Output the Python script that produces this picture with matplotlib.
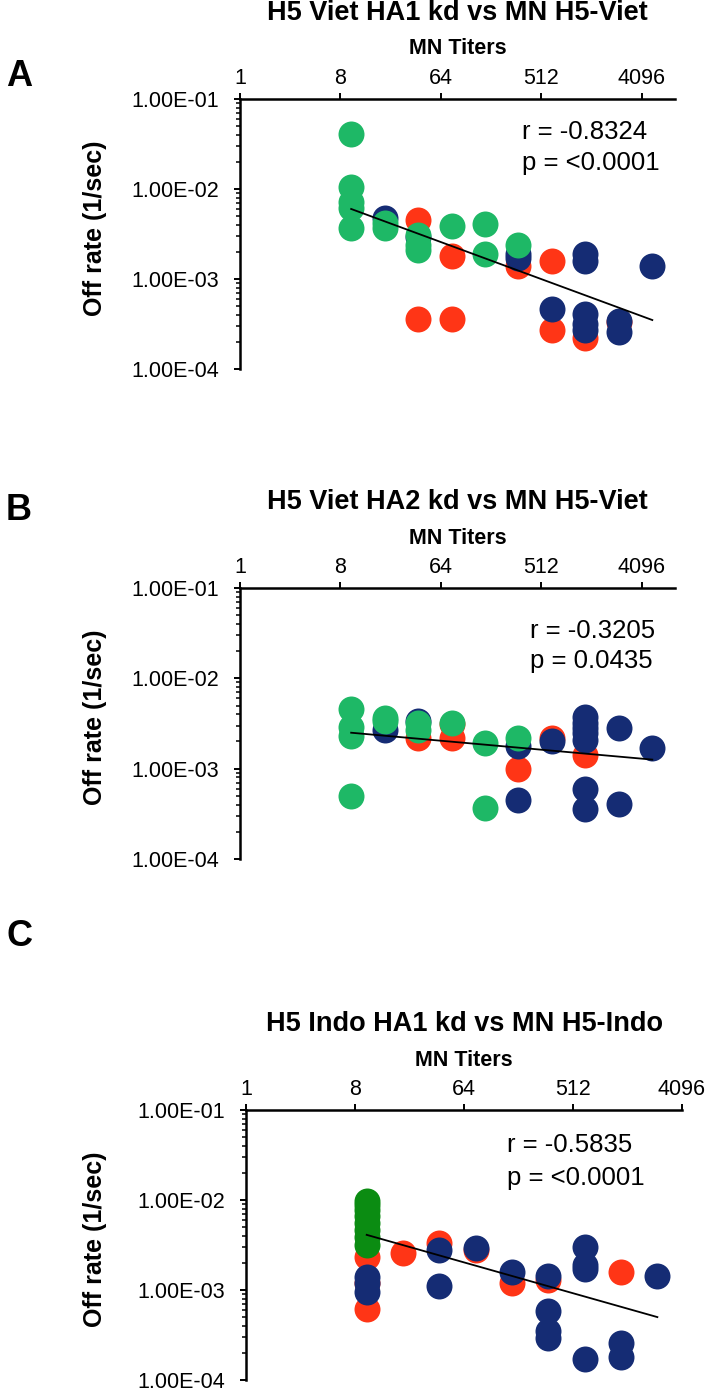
import numpy as np
import matplotlib
matplotlib.use("Agg")
import matplotlib.pyplot as plt
from matplotlib.ticker import FixedLocator, FuncFormatter, LogLocator, NullLocator

plt.rcParams['font.family'] = ['Liberation Sans', 'DejaVu Sans']

RED = "#ff3516"
NAVY = "#152c74"
GREEN = "#1eb866"
DKGREEN = "#0b8c12"

# panel A: H5 Viet HA1
a_red_x = [40, 40, 80, 80, 320, 640, 640, 1280, 2560]
a_red_y = [0.0045, 0.00036, 0.0018, 0.00036, 0.0014, 0.0016, 0.00027, 0.00022, 0.00033]
a_navy_x = [20, 40, 320, 320, 640, 1280, 1280, 1280, 1280, 1280, 2560, 2560, 5120]
a_navy_y = [0.0048, 0.0029, 0.0019, 0.0017, 0.00046, 0.0019, 0.0016, 0.00041, 0.00032,
            0.00027, 0.00034, 0.00026, 0.0014]
a_green_x = [10, 10, 10, 10, 10, 20, 20, 40, 40, 40, 80, 160, 160, 320]
a_green_y = [0.041, 0.0105, 0.0072, 0.0062, 0.0037, 0.0042, 0.0037, 0.0031, 0.0024,
             0.0021, 0.0039, 0.0041, 0.0019, 0.0024]
a_fit_x = [10, 5120]
a_fit_y = [0.006, 0.00035]

# panel B: H5 Viet HA2
b_red_x = [40, 80, 80, 320, 640, 1280]
b_red_y = [0.0022, 0.0022, 0.0031, 0.0010, 0.0022, 0.0014]
b_navy_x = [20, 40, 320, 320, 640, 1280, 1280, 1280, 1280, 1280, 1280, 1280, 2560, 2560, 5120]
b_navy_y = [0.0027, 0.0034, 0.0018, 0.00045, 0.0020, 0.0037, 0.0032, 0.0028, 0.0025,
            0.0021, 0.00059, 0.00036, 0.0028, 0.00041, 0.0017]
b_green_x = [10, 10, 10, 10, 20, 20, 40, 40, 80, 160, 160, 320]
b_green_y = [0.0046, 0.0029, 0.0023, 0.00050, 0.0036, 0.0034, 0.0032, 0.0027, 0.0032,
             0.0019, 0.00037, 0.0022]
b_fit_x = [10, 5120]
b_fit_y = [0.0025, 0.00126]

# panel C: H5 Indo HA1
c_red_x = [10, 10, 10, 20, 40, 80, 160, 320, 1280]
c_red_y = [0.0023, 0.0012, 0.00062, 0.0026, 0.0033, 0.0028, 0.0012, 0.0013, 0.0016]
c_navy_x = [10, 10, 10, 40, 40, 80, 160, 320, 320, 320, 320, 640, 640, 640, 640,
            1280, 1280, 2560]
c_navy_y = [0.0014, 0.0012, 0.00096, 0.0028, 0.0011, 0.0029, 0.0016, 0.00144, 0.00058,
            0.00035, 0.00029, 0.0030, 0.0019, 0.0017, 0.00017, 0.00026, 0.00018, 0.00144]
c_green_x = [10, 10, 10, 10, 10, 10, 10, 10]
c_green_y = [0.0098, 0.0088, 0.0077, 0.0066, 0.0056, 0.0047, 0.0039, 0.0032]
c_fit_x = [10, 2560]
c_fit_y = [0.0041, 0.0005]

titles = ["H5 Viet HA1 kd vs MN H5-Viet", "H5 Viet HA2 kd vs MN H5-Viet",
          "H5 Indo HA1 kd vs MN H5-Indo"]
stats = [("r = -0.8324", "p = <0.0001"), ("r = -0.3205", "p = 0.0435"),
         ("r = -0.5835", "p = <0.0001")]
letters = ["A", "B", "C"]
x_ticks = [1, 8, 64, 512, 4096]
y_ticks = [1e-4, 1e-3, 1e-2, 1e-1]

W, H = 707, 1391
fig = plt.figure(figsize=(W / 100, H / 100), dpi=100)


def px_axes(left, top, right, bottom):
    return fig.add_axes([left / W, 1 - bottom / H, (right - left) / W, (bottom - top) / H])


def panel(ax, red, navy, green, fit, xmax, title, stat, stat_pos, green_col):
    ms = 350
    ax.scatter(*red, s=ms, color=RED, linewidths=0, zorder=2)
    ax.scatter(*navy, s=ms, color=NAVY, linewidths=0, zorder=3)
    ax.scatter(*green, s=ms, color=green_col, linewidths=0, zorder=4)
    ax.plot(*fit, color="black", lw=1.3, zorder=5)

    ax.set_xscale("log", base=2)
    ax.set_yscale("log")
    ax.set_xlim(1, xmax)
    ax.set_ylim(1e-4, 1e-1)
    ax.xaxis.tick_top()
    ax.xaxis.set_major_locator(FixedLocator(x_ticks))
    ax.xaxis.set_minor_locator(NullLocator())
    ax.xaxis.set_major_formatter(FuncFormatter(lambda v, p: str(int(round(v)))))
    ax.yaxis.set_major_locator(FixedLocator(y_ticks))
    ax.yaxis.set_minor_locator(LogLocator(base=10, subs=np.arange(2, 10)))
    ax.yaxis.set_major_formatter(FuncFormatter(lambda v, p: f"{v:.2E}"))
    ax.tick_params(axis="x", which="major", direction="out", length=4, width=1.4,
                   labelsize=15.5, pad=3)
    ax.tick_params(axis="y", which="major", direction="out", length=4, width=1.4,
                   labelsize=15.5, pad=11)
    ax.tick_params(axis="y", which="minor", direction="out", length=3, width=1.1)
    for s in ["bottom", "right"]:
        ax.spines[s].set_visible(False)
    for s in ["top", "left"]:
        ax.spines[s].set_linewidth(1.8)

    ax.annotate(title, xy=(0.5, 1), xycoords="axes fraction", xytext=(0, 86),
                textcoords="offset pixels", ha="center", va="center",
                fontsize=19.5, fontweight="bold")
    ax.annotate("MN Titers", xy=(0.5, 1), xycoords="axes fraction", xytext=(0, 50),
                textcoords="offset pixels", ha="center", va="center",
                fontsize=15.5, fontweight="bold")
    ax.annotate("Off rate (1/sec)", xy=(0, 0.5), xycoords="axes fraction",
                xytext=(-145 + (240 - ax.get_position().x0 * W), 6),
                textcoords="offset pixels", ha="center", va="center",
                rotation=90, fontsize=18, fontweight="bold")
    ax.text(stat_pos[0], stat_pos[1], stat[0], transform=ax.transAxes, fontsize=18.5,
            va="center", ha="left")
    ax.text(stat_pos[0], stat_pos[2], stat[1], transform=ax.transAxes, fontsize=18.5,
            va="center", ha="left")


ax_a = px_axes(240, 99, 675, 369)
panel(ax_a, (a_red_x, a_red_y), (a_navy_x, a_navy_y), (a_green_x, a_green_y),
      (a_fit_x, a_fit_y), 8192, titles[0], stats[0], (0.648, 0.877, 0.762), GREEN)

ax_b = px_axes(240, 588, 675, 859)
panel(ax_b, (b_red_x, b_red_y), (b_navy_x, b_navy_y), (b_green_x, b_green_y),
      (b_fit_x, b_fit_y), 8192, titles[1], stats[1], (0.667, 0.84, 0.73), GREEN)

ax_c = px_axes(246, 1110, 682, 1380)
panel(ax_c, (c_red_x, c_red_y), (c_navy_x, c_navy_y), (c_green_x, c_green_y),
      (c_fit_x, c_fit_y), 4096, titles[2], stats[2], (0.598, 0.87, 0.75), DKGREEN)

for letter, y in zip(letters, [77, 510, 937]):
    fig.text(19 / W, 1 - y / H, letter, fontsize=26, fontweight="bold",
             ha="center", va="center")

fig.savefig("out.png", dpi=100)
